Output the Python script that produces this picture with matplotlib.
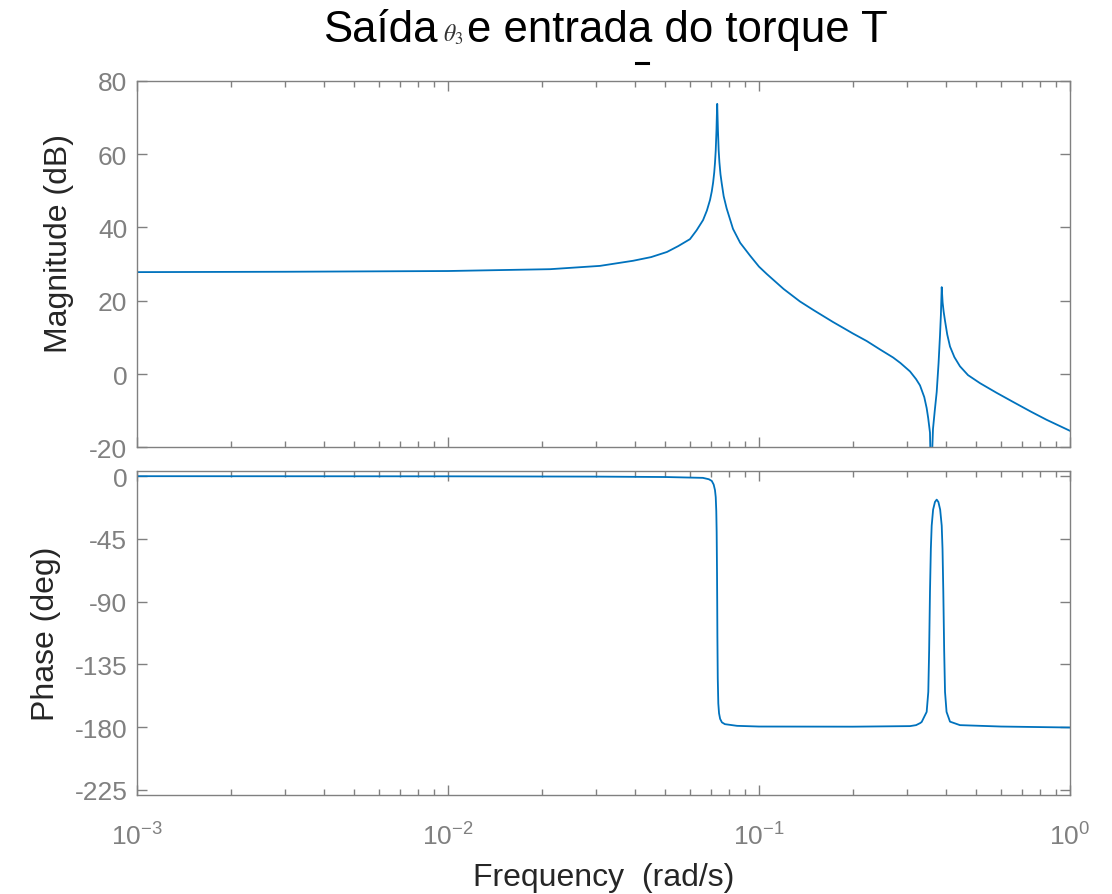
import matplotlib
matplotlib.use("Agg")
import matplotlib.pyplot as plt
from matplotlib.lines import Line2D
from matplotlib.ticker import LogLocator, NullFormatter

plt.rcParams["font.family"] = ["Liberation Sans", "DejaVu Sans"]
plt.rcParams["mathtext.fontset"] = "stix"
plt.rcParams["axes.unicode_minus"] = False

# --- dados ---
MAG_FREQ = [0.001, 0.003, 0.01, 0.0213, 0.0308, 0.0394, 0.045, 0.0506,
            0.055, 0.060, 0.063, 0.0661, 0.068, 0.0696, 0.0705, 0.0712,
            0.0718, 0.0722, 0.0726, 0.0730, 0.0732, 0.0734, 0.0736, 0.0738,
            0.0742, 0.0746, 0.0752, 0.0759, 0.0770, 0.0787, 0.0825, 0.087,
            0.0936, 0.1, 0.1059, 0.12, 0.1354, 0.15, 0.1729, 0.19,
            0.2, 0.222, 0.245, 0.27, 0.285, 0.306, 0.32, 0.3294,
            0.34, 0.3461, 0.35, 0.3547, 0.3574, 0.3627, 0.3675, 0.3728,
            0.3780, 0.3820, 0.3845, 0.3869, 0.3895, 0.3925, 0.3965, 0.4030,
            0.4114, 0.425, 0.4429, 0.47, 0.5137, 0.58, 0.6557, 0.75,
            0.8414, 1.0]
MAG_DB = [27.8, 27.9, 28.1, 28.6, 29.5, 30.9, 31.9, 33.3,
          34.9, 36.8, 39.2, 42.0, 44.6, 47.5, 49.8, 52.2,
          55.0, 57.6, 61.0, 66.5, 70.5, 73.7, 70.0, 66.5,
          61.0, 57.8, 54.5, 52.0, 48.5, 45.2, 39.6, 35.8,
          32.3, 29.3, 27.3, 23.2, 19.8, 17.4, 14.2, 12.2,
          11.1, 9.0, 6.7, 4.5, 3.0, 0.7, -1.4, -3.1,
          -6.3, -9.3, -12.0, -16.0, -30.0, -15.0, -10.0, -4.9,
          3.0, 10.5, 16.0, 23.7, 19.5, 17.0, 14.5, 10.8,
          7.5, 4.6, 2.1, -0.3, -2.5, -5.1, -7.6, -10.3,
          -12.5, -15.5]

PH_FREQ = [0.001, 0.01, 0.03, 0.05, 0.066, 0.069, 0.0705, 0.0715,
           0.0722, 0.0726, 0.0729, 0.0731, 0.0733, 0.0734, 0.0735, 0.0737,
           0.0740, 0.0744, 0.0750, 0.0760, 0.0777, 0.085, 0.1, 0.2,
           0.306, 0.32, 0.330, 0.3336, 0.3461, 0.3503, 0.3525, 0.3547,
           0.3570, 0.3592, 0.3630, 0.3680, 0.3728, 0.3775, 0.3825, 0.3869,
           0.3892, 0.3915, 0.3940, 0.3965, 0.4010, 0.4114, 0.4429, 0.6,
           1.0]
PH_DEG = [0.0, -0.1, -0.3, -0.6, -1.2, -2.2, -3.4, -6.0,
          -10.0, -15.0, -25.0, -40.0, -70.0, -90.0, -115.0, -145.0,
          -163.0, -170.0, -174.0, -176.5, -177.8, -179.0, -179.5, -179.6,
          -179.2, -178.5, -177.0, -176.2, -169.0, -154.7, -125.0, -83.0,
          -52.0, -35.5, -24.0, -18.5, -16.8, -18.5, -24.0, -35.5,
          -52.0, -83.0, -125.0, -154.7, -169.0, -176.0, -178.5, -179.5,
          -180.2]

MAG_TICKS = [-20, 0, 20, 40, 60, 80]
PH_TICKS = [-225, -180, -135, -90, -45, 0]

LINE = "#0072BD"
GRAY = "#808080"
DARK = "#262626"
W, H = 1112, 895

fig = plt.figure(figsize=(W / 100, H / 100), dpi=100)
ax1 = fig.add_axes([0.1232, 0.4991, 0.839, 0.4095])
ax2 = fig.add_axes([0.1232, 0.1106, 0.839, 0.362])

ax1.semilogx(MAG_FREQ, MAG_DB, color=LINE, linewidth=1.3)
ax2.semilogx(PH_FREQ, PH_DEG, color=LINE, linewidth=1.3)

ax1.set_ylim(-20, 80)
ax1.set_yticks(MAG_TICKS)
ax2.set_ylim(-228.6, 3.7)
ax2.set_yticks(PH_TICKS)

for ax in (ax1, ax2):
    ax.set_xlim(1e-3, 1)
    ax.xaxis.set_major_locator(LogLocator(base=10, numticks=10))
    ax.xaxis.set_minor_locator(LogLocator(base=10, subs=range(2, 10), numticks=10))
    ax.xaxis.set_minor_formatter(NullFormatter())
    ax.tick_params(which="both", direction="in", top=True, right=True,
                   colors=GRAY, labelsize=19)
    ax.tick_params(which="major", length=7, width=1)
    ax.tick_params(which="minor", length=4.3, width=1)
    ax.tick_params(axis="y", pad=7)
    ax.tick_params(axis="x", pad=20)
    for s in ax.spines.values():
        s.set_color(GRAY)
        s.set_linewidth(1)

ax1.tick_params(axis="x", which="both", labelbottom=False)

ax1.set_ylabel("Magnitude (dB)", fontsize=23, color=DARK)
ax1.yaxis.set_label_coords(-0.068, 0.56)
ax2.set_ylabel("Phase (deg)", fontsize=23, color=DARK)
ax2.yaxis.set_label_coords(-0.0815, 0.5)
ax2.set_xlabel("Frequency  (rad/s)", fontsize=23, color=DARK, labelpad=9)

# título em partes (θ3 menor, como no original)
yb = 1 - 42 / H
fig.text(323 / W, yb, "Saída", fontsize=31.5, va="baseline", color="black")
fig.text(443 / W, yb, r"$\theta_3$", fontsize=17, va="baseline", color="#333333")
fig.text(467 / W, yb, "e entrada do torque T", fontsize=31.5, va="baseline",
         color="black")
fig.add_artist(Line2D([636 / W, 648 / W], [1 - 64 / H] * 2, color="black",
                      linewidth=2.2, transform=fig.transFigure))

fig.savefig("out.png", dpi=100)
